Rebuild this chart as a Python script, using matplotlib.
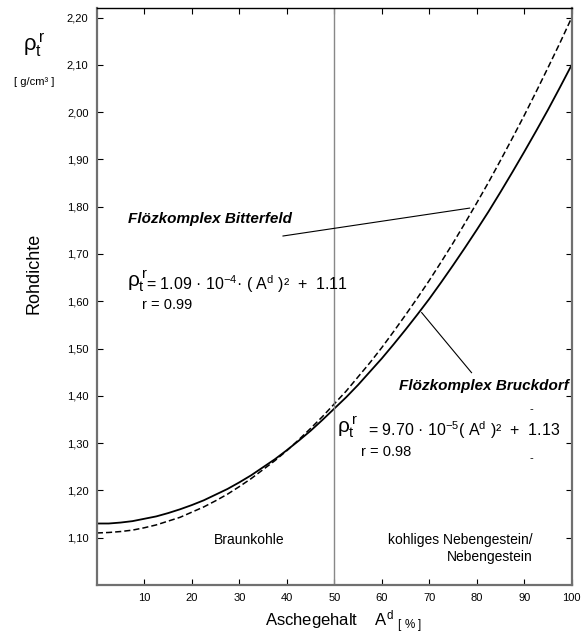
import matplotlib
matplotlib.use("Agg")
import matplotlib.pyplot as plt

plt.rcParams["font.family"] = ["Liberation Sans", "DejaVu Sans"]
plt.rcParams["mathtext.fontset"] = "custom"
plt.rcParams["mathtext.rm"] = "Liberation Sans"
plt.rcParams["mathtext.it"] = "Liberation Sans"

# ash content A^d [%] and bulk density
ash = [0, 2.5, 5, 7.5, 10, 12.5, 15, 17.5, 20, 22.5, 25, 27.5, 30, 32.5, 35, 37.5, 40,
       42.5, 45, 47.5, 50, 52.5, 55, 57.5, 60, 62.5, 65, 67.5, 70, 72.5, 75, 77.5, 80,
       82.5, 85, 87.5, 90, 92.5, 95, 97.5, 100]
bruckdorf = [1.130, 1.130, 1.132, 1.135, 1.140, 1.145, 1.152, 1.160, 1.169, 1.179,
             1.191, 1.203, 1.217, 1.232, 1.249, 1.266, 1.285, 1.305, 1.326, 1.349,
             1.373, 1.397, 1.423, 1.451, 1.479, 1.509, 1.540, 1.572, 1.605, 1.640,
             1.676, 1.713, 1.751, 1.790, 1.831, 1.873, 1.916, 1.960, 2.005, 2.052, 2.100]
bitterfeld = [1.110, 1.111, 1.113, 1.116, 1.121, 1.127, 1.135, 1.143, 1.154, 1.165,
              1.178, 1.192, 1.208, 1.225, 1.244, 1.263, 1.284, 1.307, 1.331, 1.356,
              1.383, 1.410, 1.440, 1.470, 1.502, 1.536, 1.571, 1.607, 1.644, 1.683,
              1.723, 1.765, 1.808, 1.852, 1.898, 1.945, 1.993, 2.043, 2.094, 2.146, 2.200]

xticks = [10, 20, 30, 40, 50, 60, 70, 80, 90, 100]
yticks = [1.10, 1.20, 1.30, 1.40, 1.50, 1.60, 1.70, 1.80, 1.90, 2.00, 2.10, 2.20]
ylabels = ["1,10", "1,20", "1,30", "1,40", "1,50", "1,60", "1,70", "1,80", "1,90", "2,00", "2,10", "2,20"]

fig = plt.figure(figsize=(5.87, 6.41), dpi=100)
ax = fig.add_axes([0.165, 0.0874, 0.809, 0.9])

ax.plot(ash, bruckdorf, color="black", lw=1.3)
ax.plot(ash, bitterfeld, color="black", lw=1.1, ls=(0, (4, 2)))
ax.axvline(50, color="#888888", lw=1)

ax.set_xlim(0, 100)
ax.set_ylim(1.0, 2.22)
ax.set_xticks(xticks)
ax.set_xticklabels([str(t) for t in xticks], fontsize=8)
ax.set_yticks(yticks)
ax.set_yticklabels(ylabels, fontsize=8)
ax.tick_params(direction="in", length=4, top=True, right=True, labeltop=False, labelright=False,
               pad=6)

for side in ["left", "bottom", "right"]:
    ax.spines[side].set_color("#707070")
    ax.spines[side].set_linewidth(1.6)
ax.spines["top"].set_linewidth(1.0)

# annotation leader lines
ax.plot([39.2, 78.5], [1.738, 1.797], color="black", lw=0.8)
ax.plot([68.4, 78.9], [1.576, 1.449], color="black", lw=0.8)

ax.text(6.5, 1.774, "Flözkomplex Bitterfeld", fontsize=11, fontweight="bold", style="italic",
        va="center")
ax.text(6.3, 1.642, r"$\rho_t^{\,r}$", fontsize=15, va="center")
ax.text(10.3, 1.637, "= 1.09 · 10$^{-4}$· ( A$^{d}$ )²  +  1.11", fontsize=11.5, va="center")
ax.text(9.5, 1.592, "r = 0.99", fontsize=10.5, va="center")

ax.text(99.3, 1.421, "Flözkomplex Bruckdorf", fontsize=11, fontweight="bold", style="italic",
        va="center", ha="right")
ax.text(50.6, 1.333, r"$\rho_t^{\,r}$", fontsize=15, va="center")
ax.text(57.0, 1.327, "= 9.70 · 10$^{-5}$( A$^{d}$ )²  +  1.13", fontsize=11.5, va="center")
ax.text(55.7, 1.282, "r = 0.98", fontsize=10.5, va="center")
ax.text(91.5, 1.372, "-", fontsize=8, va="center", ha="center")
ax.text(91.5, 1.268, "-", fontsize=8, va="center", ha="center")

ax.text(32.0, 1.096, "Braunkohle", fontsize=10, va="center", ha="center")
ax.text(91.8, 1.096, "kohliges Nebengestein/", fontsize=10, va="center", ha="right")
ax.text(91.8, 1.060, "Nebengestein", fontsize=10, va="center", ha="right")

fig.text(0.058, 0.574, "Rohdichte", fontsize=13, rotation=90, va="center", ha="center")
fig.text(0.058, 0.93, r"$\rho_t^{\,r}$", fontsize=16, va="center", ha="center")
fig.text(0.058, 0.872, "[ g/cm³ ]", fontsize=8, va="center", ha="center")
fig.text(0.585, 0.03, r"Aschegehalt    A$^{d}$ $_{[\ \%\ ]}$", fontsize=12, va="center",
         ha="center")

fig.savefig("out.png", dpi=100)
